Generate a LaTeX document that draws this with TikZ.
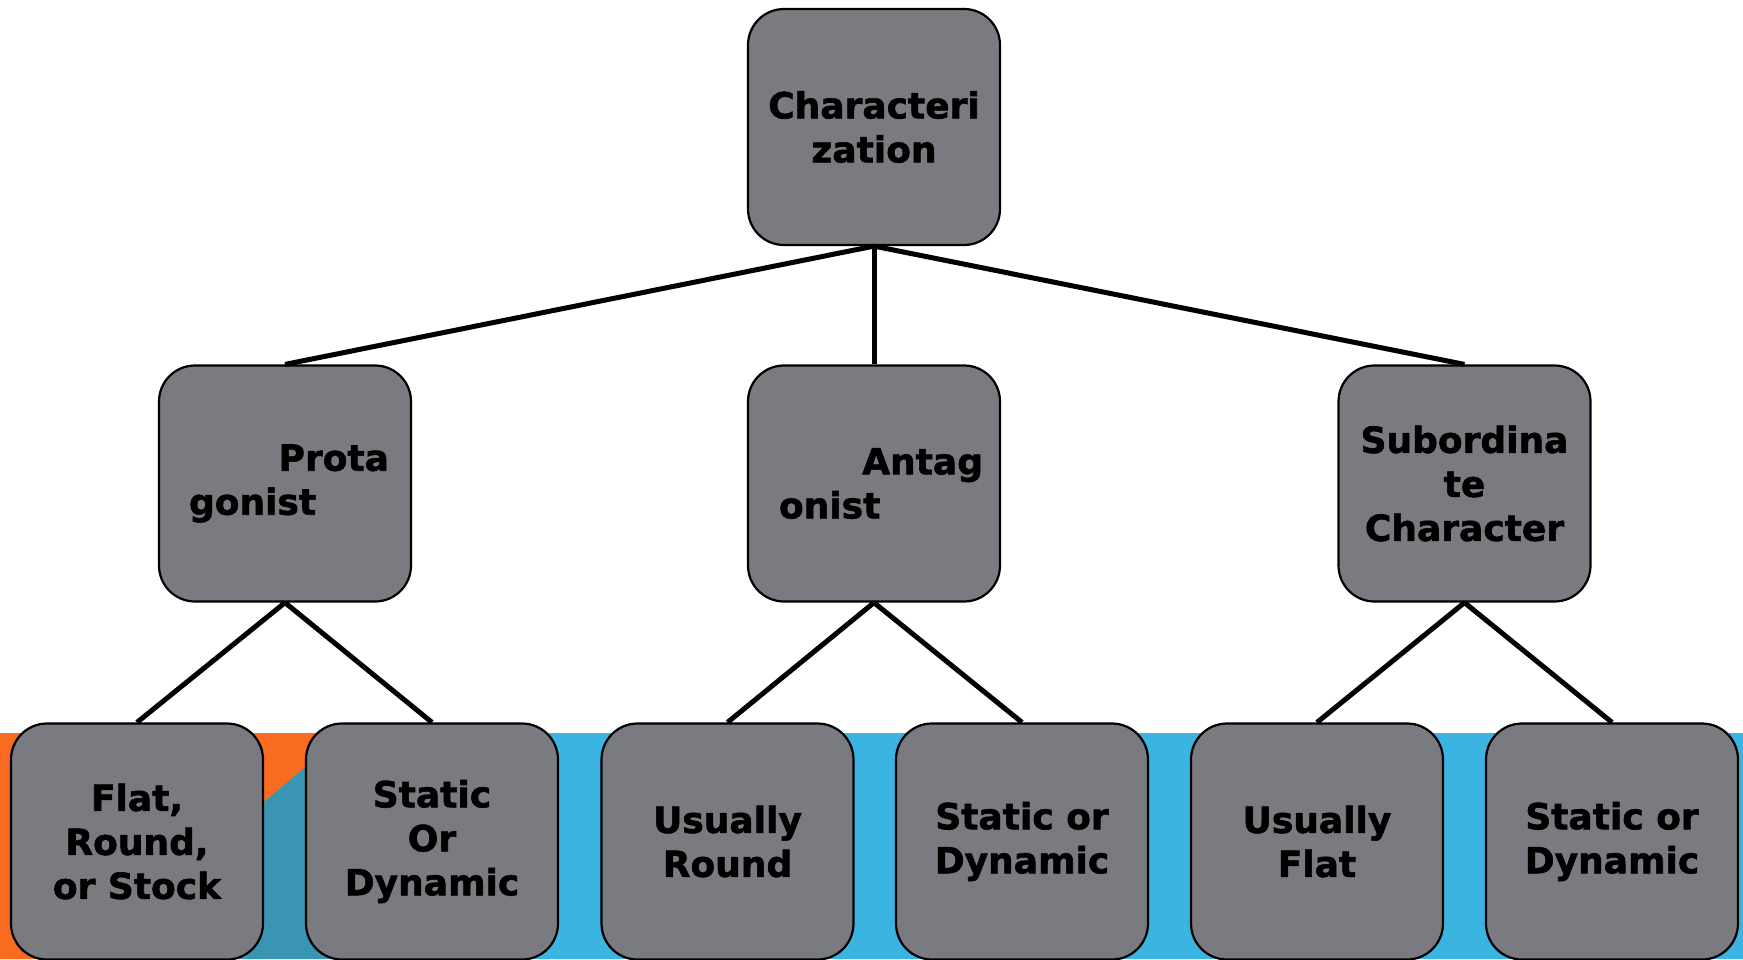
\documentclass[tikz,border=0pt]{standalone}
\usepackage{fontspec}
\setmainfont{DejaVu Sans}[BoldFeatures={FakeBold=1.6}]
\definecolor{boxgray}{HTML}{7A7B80}
\definecolor{bandorange}{HTML}{F96B1E}
\definecolor{bandteal}{HTML}{3A95B3}
\definecolor{bandblue}{HTML}{3BB4E1}
\tikzset{
  cbox/.style={draw=black, line width=2.2pt, fill=boxgray, rounded corners=36pt,
    minimum width=252pt, minimum height=236pt, inner sep=0pt,
    font=\fontsize{36}{44}\selectfont\bfseries, align=center, text=black},
  link/.style={draw=black, line width=5pt}
}
\begin{document}
\begin{tikzpicture}[x=1pt,y=-1pt]
\useasboundingbox (0,0) rectangle (1743,959);
% background band
\fill[bandblue] (0,733) rectangle (1743,959);
\fill[bandteal] (79,959) -- (345,733) -- (450,733) -- (450,959) -- cycle;
\fill[bandorange] (0,733) -- (345,733) -- (79,959) -- (0,959) -- cycle;
% nodes
\node[cbox] (top) at (874,127) {Characteri\\zation};
\node[cbox, text width=208pt, align=left] (prot) at (285,483.5) {\mbox{}\hfill Prota\\\hspace*{8pt}gonist};
\node[cbox, text width=218pt, align=left] (anta) at (874,483.5) {\mbox{}\hfill Antag\\\hspace*{14pt}onist};
\node[cbox] (subo) at (1464.5,483.5) {Subordina\\te\\Character};
\node[cbox] (b1) at (137,841.5) {Flat,\\Round,\\or Stock};
\node[cbox] (b2) at (432,841.5) {Static\\Or\\Dynamic};
\node[cbox] (b3) at (727.5,841.5) {Usually\\Round};
\node[cbox] (b4) at (1022,841.5) {Static or\\Dynamic};
\node[cbox] (b5) at (1317,841.5) {Usually\\Flat};
\node[cbox] (b6) at (1612,841.5) {Static or\\Dynamic};
% connectors
\draw[link] (top.south) -- (prot.north);
\draw[link] (top.south) -- (anta.north);
\draw[link] (top.south) -- (subo.north);
\draw[link] (prot.south) -- (b1.north);
\draw[link] (prot.south) -- (b2.north);
\draw[link] (anta.south) -- (b3.north);
\draw[link] (anta.south) -- (b4.north);
\draw[link] (subo.south) -- (b5.north);
\draw[link] (subo.south) -- (b6.north);
\end{tikzpicture}
\end{document}
